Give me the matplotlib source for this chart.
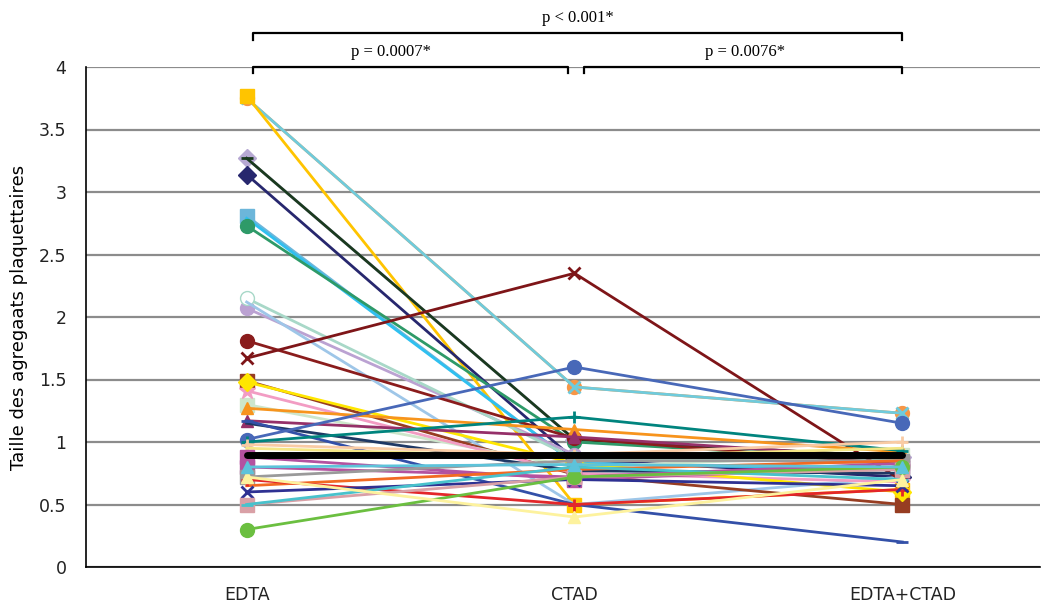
import matplotlib
matplotlib.use("Agg")
import matplotlib.pyplot as plt

categories = ["EDTA", "CTAD", "EDTA+CTAD"]
y_ticks = [0, 0.5, 1, 1.5, 2, 2.5, 3, 3.5, 4]
y_tick_labels = ["0", "0.5", "1", "1.5", "2", "2.5", "3", "3.5", "4"]

# each series: values at EDTA, CTAD, EDTA+CTAD
s_orange_circ = [3.75, 1.44, 1.23]
s_lightblue_x = [3.75, 1.44, 1.23]
s_gold_sq = [3.77, 0.50, 0.62]
s_lavender_dia = [3.27, 1.02, 0.88]
s_darkgreen_dash = [3.27, 1.02, 0.88]
s_navy_dia = [3.14, 0.86, 0.72]
s_steel_sq = [2.81, 0.83, 0.78]
s_cyan_line = [2.79, 0.83, 0.78]
s_green_circ = [2.73, 1.00, 0.85]
s_open_circ = [2.15, 0.87, 0.85]
s_lilac_circ = [2.07, 0.90, 0.82]
s_paleblue = [2.12, 0.50, 0.72]
s_darkred_circ = [1.81, 1.03, 0.82]
s_darkred_x = [1.67, 2.35, 0.69]
s_brown_sq = [1.49, 0.74, 0.50]
s_yellow_dia = [1.48, 0.83, 0.60]
s_pink_star = [1.41, 0.75, 0.68]
s_palegreen_sq = [1.30, 0.80, 0.90]
s_orange_tri = [1.27, 1.10, 0.92]
s_purple_tri = [1.17, 1.04, 0.87]
s_darknavy = [1.15, 0.77, 0.75]
s_blue_dash = [1.17, 0.50, 0.20]
s_royal_circ = [1.02, 1.60, 1.15]
s_teal_plus = [1.00, 1.20, 0.93]
s_peach_plus = [0.98, 0.90, 1.00]
s_khaki = [0.95, 0.88, 0.95]
s_magenta_sq = [0.88, 0.70, 0.80]
s_magenta_sq2 = [0.80, 0.72, 0.83]
s_lblue_tri = [0.80, 0.82, 0.80]
s_gray_sq = [0.72, 0.85, 0.85]
s_red_plus = [0.70, 0.50, 0.62]
s_orangered = [0.65, 0.78, 0.85]
s_navy_x = [0.60, 0.70, 0.65]
s_rose_sq = [0.50, 0.72, 0.78]
s_cyan_dash = [0.50, 0.80, 0.70]
s_lime_circ = [0.30, 0.72, 0.80]
s_paleyellow_tri = [0.72, 0.40, 0.70]
s_mean = [0.90, 0.90, 0.90]

series = [
    (s_orange_circ, "#F79646", "o", "#F79646"),
    (s_lightblue_x, "#6FCBDC", "x", "#6FCBDC"),
    (s_gold_sq, "#FFC400", "s", "#FFC400"),
    (s_lavender_dia, "#B7A9D3", "D", "#B7A9D3"),
    (s_darkgreen_dash, "#1A3A1E", "_", "#1A3A1E"),
    (s_navy_dia, "#27276E", "D", "#27276E"),
    (s_steel_sq, "#6CB6DA", "s", "#6CB6DA"),
    (s_cyan_line, "#2FC0F0", "", "#2FC0F0"),
    (s_green_circ, "#2E9A68", "o", "#2E9A68"),
    (s_lilac_circ, "#BBA2D2", "o", "#BBA2D2"),
    (s_open_circ, "#A8D8C8", "o", "white"),
    (s_paleblue, "#9EC6E8", "", "#9EC6E8"),
    (s_darkred_circ, "#8A1C1C", "o", "#8A1C1C"),
    (s_darkred_x, "#7E1518", "x", "#7E1518"),
    (s_brown_sq, "#973D22", "s", "#973D22"),
    (s_palegreen_sq, "#CDE6CB", "s", "#CDE6CB"),
    (s_pink_star, "#F29CC3", "*", "#F29CC3"),
    (s_yellow_dia, "#FFE600", "D", "#FFE600"),
    (s_orange_tri, "#F7941D", "^", "#F7941D"),
    (s_purple_tri, "#953069", "^", "#953069"),
    (s_darknavy, "#1F3864", "", "#1F3864"),
    (s_blue_dash, "#3350A8", "_", "#3350A8"),
    (s_royal_circ, "#4868B8", "o", "#4868B8"),
    (s_teal_plus, "#00847E", "+", "#00847E"),
    (s_peach_plus, "#F9CBA4", "+", "#F9CBA4"),
    (s_khaki, "#F3E685", "", "#F3E685"),
    (s_magenta_sq, "#B452A0", "s", "#B452A0"),
    (s_magenta_sq2, "#B452A0", "s", "#B452A0"),
    (s_gray_sq, "#9A9A9A", "s", "#9A9A9A"),
    (s_orangered, "#F26A22", "", "#F26A22"),
    (s_red_plus, "#E3262A", "+", "#E3262A"),
    (s_navy_x, "#2E3192", "x", "#2E3192"),
    (s_rose_sq, "#D9A0A6", "s", "#D9A0A6"),
    (s_cyan_dash, "#48C2CC", "_", "#48C2CC"),
    (s_lime_circ, "#6BBF40", "o", "#6BBF40"),
    (s_paleyellow_tri, "#FDF29E", "^", "#FDF29E"),
    (s_lblue_tri, "#5DC3DA", "^", "#5DC3DA"),
]

fig = plt.figure(figsize=(10.44, 6.05), dpi=100)
ax = fig.add_axes([86 / 1044, 1 - 567 / 605, (1040 - 86) / 1044, (567 - 67) / 605])

x = list(range(len(categories)))
for vals, col, mk, face in series:
    ms = 10 if mk in ("o", "s") else 9
    if mk == "*":
        ms = 12
    ax.plot(x, vals, color=col, lw=2.0, marker=mk if mk else None,
            markersize=ms, markerfacecolor=face, markeredgecolor=col,
            markeredgewidth=2 if mk in ("x", "+", "_") else 1, zorder=3)

ax.plot(x, s_mean, color="black", lw=5, zorder=4, solid_capstyle="round")

ax.set_xlim(-0.49, 2.42)
ax.set_ylim(0, 4)
ax.set_yticks(y_ticks)
ax.set_yticklabels(y_tick_labels, fontsize=12.5, color="#222222")
ax.set_xticks(x)
ax.set_xticklabels(categories, fontsize=12.5, color="#222222")
ax.tick_params(axis="both", length=0)
ax.tick_params(axis="y", pad=14)
ax.tick_params(axis="x", pad=14)
ax.yaxis.grid(True, color="#8C8C8C", lw=1.6, zorder=0)
ax.set_axisbelow(True)
for s in ("top", "right"):
    ax.spines[s].set_visible(False)
for s in ("left", "bottom"):
    ax.spines[s].set_color("black")
    ax.spines[s].set_linewidth(1.2)
ax.set_ylabel("Taille des agregaats plaquettaires", fontsize=13, labelpad=8)

# significance brackets
def bracket(x0, x1, y, text, tx):
    ax.plot([x0, x0, x1, x1], [y - 0.05, y, y, y - 0.05], color="black",
            lw=1.6, clip_on=False, zorder=5)
    ax.text(tx, y + 0.06, text, ha="center", va="bottom",
            fontsize=12, family="Liberation Serif", clip_on=False)

bracket(0.02, 0.98, 4.0, "p = 0.0007*", 0.44)
bracket(1.03, 2.0, 4.0, "p = 0.0076*", 1.52)
bracket(0.02, 2.0, 4.27, "p < 0.001*", 1.01)

fig.savefig("out.png", dpi=100)
